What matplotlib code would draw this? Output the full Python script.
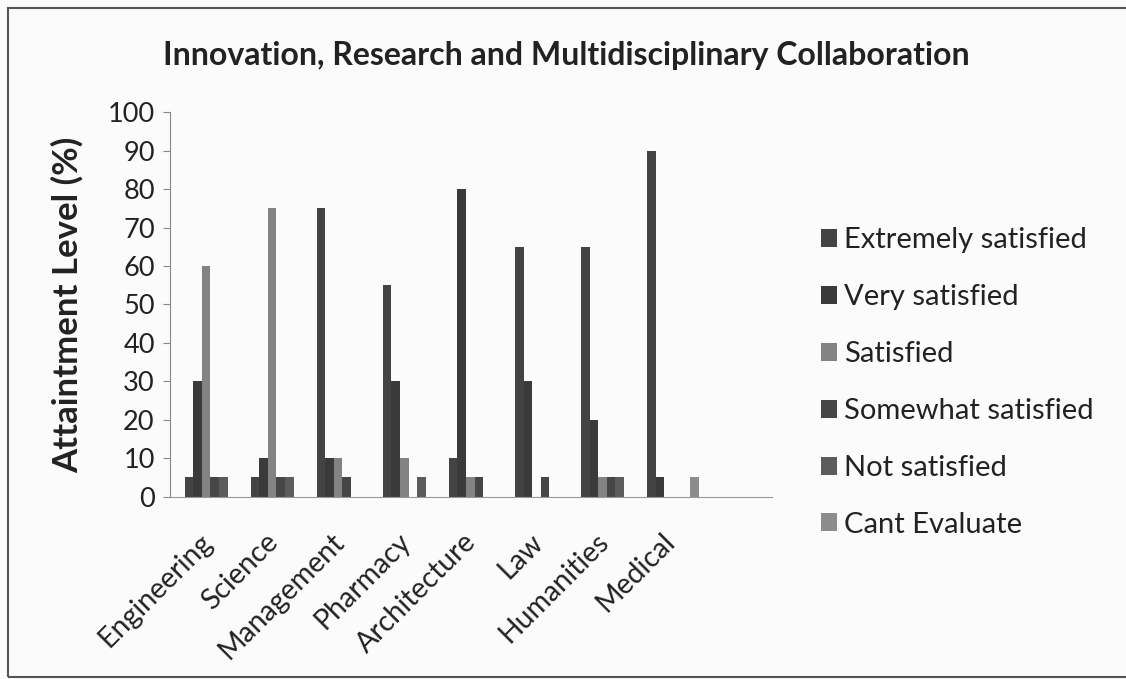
import matplotlib
matplotlib.use('Agg')
import matplotlib.pyplot as plt
import numpy as np

categories = ['Engineering', 'Science', 'Management', 'Pharmacy', 'Architecture',
              'Law', 'Humanities', 'Medical']
series = ['Extremely satisfied', 'Very satisfied', 'Satisfied',
          'Somewhat satisfied', 'Not satisfied', 'Cant Evaluate']

extremely = [5, 5, 75, 55, 10, 65, 65, 90]
very = [30, 10, 10, 30, 80, 30, 20, 5]
satisfied = [60, 75, 10, 10, 5, 0, 5, 0]
somewhat = [5, 5, 5, 0, 5, 5, 5, 0]
not_sat = [5, 5, 0, 5, 0, 0, 5, 0]
cant = [0, 0, 0, 0, 0, 0, 0, 5]

colors = ['#434343', '#3a3a3a', '#838383', '#464646', '#5c5c5c', '#8c8c8c']

plt.rcParams['font.family'] = ['Lato', 'DejaVu Sans']

fig = plt.figure(figsize=(11.26, 6.79), dpi=100)
fig.patch.set_facecolor('#fbfbfb')
ax = fig.add_axes([0.151, 0.2685, 0.5346, 0.5661])
ax.set_facecolor('#fbfbfb')

# chart border from the scan
border = plt.Rectangle((0.007, 0.003), 1.2, 0.985, transform=fig.transFigure,
                       fill=False, edgecolor='#555555', linewidth=1.5)
fig.patches.append(border)

x = np.arange(len(categories))
w = 0.13
data = [extremely, very, satisfied, somewhat, not_sat, cant]
for j, (vals, c, name) in enumerate(zip(data, colors, series)):
    ax.bar(x + (j - 2.5) * w, vals, w, color=c, label=name, linewidth=0)

ax.set_xlim(-0.61, 8.5)
ax.set_ylim(0, 100)
ax.set_yticks(range(0, 101, 10))
ax.set_xticks(x)
ax.set_xticklabels([])
# category labels, Excel-style placement
for i, cat in enumerate(categories):
    ax.annotate(cat, xy=(i, 0), xycoords=('data', 'axes fraction'),
                xytext=(5, -23), textcoords='offset points',
                rotation=45, ha='right', va='top', fontsize=20.5, color='#222222')
ax.tick_params(axis='x', length=0)
ax.tick_params(axis='y', length=5, color='#888888', labelsize=19.5, labelcolor='#222222', pad=6)
for s in ['top', 'right']:
    ax.spines[s].set_visible(False)
ax.spines['left'].set_color('#888888')
ax.spines['bottom'].set_color('#999999')

ax.set_ylabel('Attaintment Level (%)', fontsize=25, fontweight='bold', color='#222222', labelpad=17)
fig.text(0.503, 0.918, 'Innovation, Research and Multidisciplinary Collaboration',
         ha='center', va='center', fontsize=23, fontweight='bold', color='#222222')

leg = fig.legend(loc='center left', bbox_to_anchor=(0.729, 0.4367), frameon=False,
                 fontsize=21, labelspacing=1.06, handlelength=0.57, handleheight=0.57,
                 handletextpad=0.24, borderaxespad=0, borderpad=0)
for t in leg.get_texts():
    t.set_color('#222222')

fig.savefig('out.png', dpi=100, facecolor=fig.get_facecolor())
